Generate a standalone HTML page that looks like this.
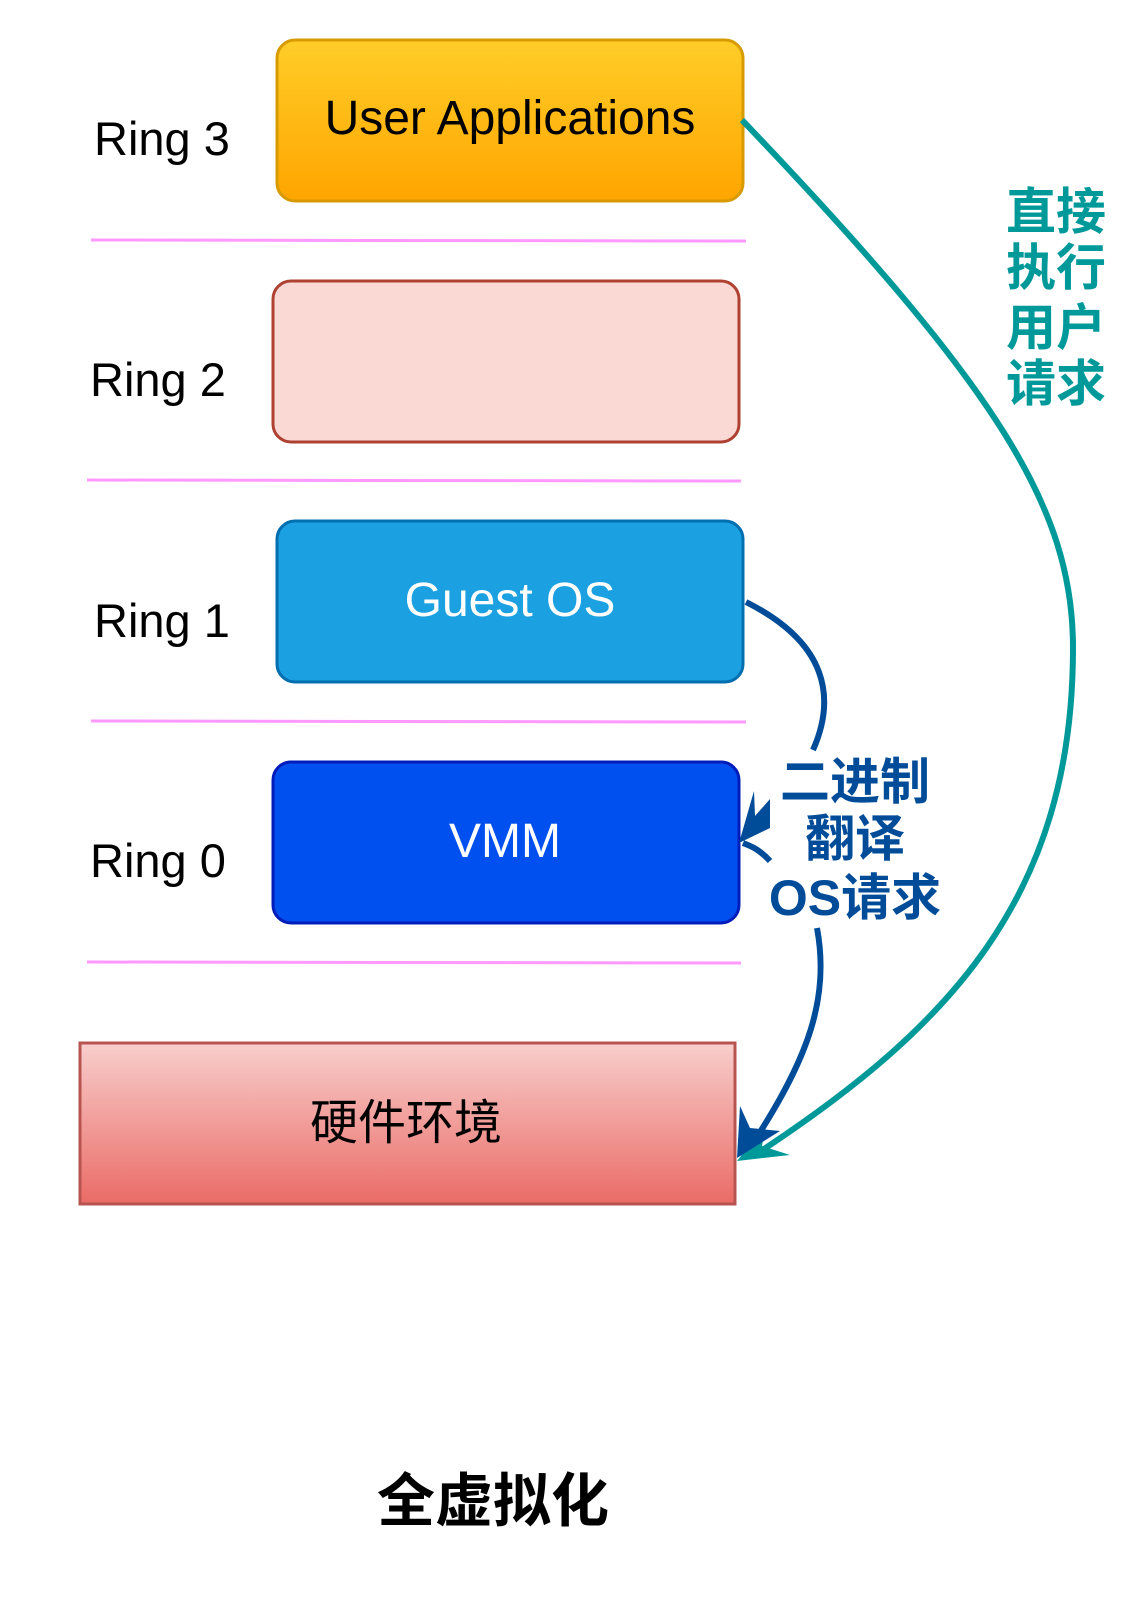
<!DOCTYPE html>
<html><head><meta charset="utf-8"><style>
html,body{margin:0;padding:0;background:#fff;}
svg{display:block;}
text{font-family:"Liberation Sans","Noto Sans CJK SC",sans-serif;}
</style></head><body>
<svg width="1140" height="1600" viewBox="0 0 1140 1600" xmlns="http://www.w3.org/2000/svg">
<defs>
<linearGradient id="gy" x1="0" y1="0" x2="0" y2="1"><stop offset="0" stop-color="#ffcd28"/><stop offset="1" stop-color="#ffa500"/></linearGradient>
<linearGradient id="gr" x1="0" y1="0" x2="0" y2="1"><stop offset="0" stop-color="#f8cecc"/><stop offset="1" stop-color="#ea6b66"/></linearGradient>
</defs>
<g transform="translate(-2,-2)">
<g stroke="#ff99ff" stroke-width="3">
<line x1="93" y1="242" x2="748" y2="243"/>
<line x1="89" y1="482" x2="743" y2="483"/>
<line x1="93" y1="723" x2="748" y2="724"/>
<line x1="89" y1="964" x2="743" y2="965"/>
</g>
<g font-size="47" fill="#000">
<text x="96" y="157">Ring 3</text>
<text x="92" y="398">Ring 2</text>
<text x="96" y="639">Ring 1</text>
<text x="92" y="879">Ring 0</text>
</g>
<rect x="279" y="42" width="466" height="161" rx="18" fill="url(#gy)" stroke="#d79b00" stroke-width="3"/>
<text x="512" y="136" font-size="48" text-anchor="middle" fill="#000">User Applications</text>
<rect x="275" y="283" width="466" height="161" rx="18" fill="#fad9d5" stroke="#ae4132" stroke-width="3"/>
<rect x="279" y="523" width="466" height="161" rx="18" fill="#1ba1e2" stroke="#006eaf" stroke-width="3"/>
<text x="512" y="618" font-size="48" text-anchor="middle" fill="#fff">Guest OS</text>
<rect x="275" y="764" width="466" height="161" rx="18" fill="#0050ef" stroke="#001dbc" stroke-width="3"/>
<text x="507" y="859" font-size="48" text-anchor="middle" fill="#fff">VMM</text>
<rect x="82" y="1045" width="655" height="161" fill="url(#gr)" stroke="#b85450" stroke-width="3"/>
<text x="408" y="1141" font-size="48" text-anchor="middle" fill="#000">硬件环境</text>
<path d="M744 122 C 1000 390, 1075 510, 1075 650 C 1075 900, 950 1030, 760 1155" fill="none" stroke="#009999" stroke-width="6"/>
<polygon points="739,1163 768,1126 764,1148 792,1157" fill="#009999"/>
<path d="M748 604 C 830 645, 838 700, 815 752" fill="none" stroke="#004c99" stroke-width="6"/>
<path d="M772 863 C 760 850, 752 848, 745 845" fill="none" stroke="#004c99" stroke-width="6"/>
<polygon points="741,845 756,793 757,818 772,801 772,830" fill="#004c99"/>
<path d="M819 930 C 832 1000, 810 1060, 757 1142" fill="none" stroke="#004c99" stroke-width="6"/>
<polygon points="739,1160 742,1108 752,1130 782,1133" fill="#004c99"/>
<g font-size="50" font-weight="bold" fill="#004c99" text-anchor="middle">
<text x="857" y="801">二进制</text>
<text x="857" y="858">翻译</text>
<text x="857" y="917">OS请求</text>
</g>
<g font-size="50" font-weight="bold" fill="#009999">
<text x="1008" y="231">直接</text>
<text x="1008" y="287">执行</text>
<text x="1008" y="347">用户</text>
<text x="1008" y="403">请求</text>
</g>
<text x="495" y="1523" font-size="58" font-weight="bold" text-anchor="middle" fill="#000">全虚拟化</text>
</g>
</svg>
</body></html>
